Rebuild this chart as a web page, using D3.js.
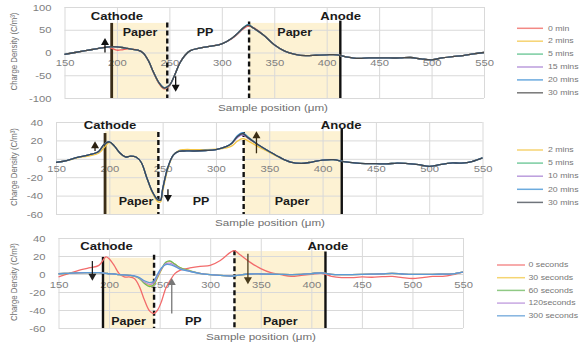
<!DOCTYPE html>
<html>
<head>
<meta charset="utf-8">
<script src="https://cdn.jsdelivr.net/npm/d3@7"></script>
<style>
  body { margin: 0; background: #fff; }
  svg { display: block; }
  text { font-family: "Liberation Sans", Arial, sans-serif; }
</style>
</head>
<body>
<svg id="chart" width="579" height="345"></svg>
<script>
// ---------- shared axis data ----------
const xTicks = [150, 200, 250, 300, 350, 400, 450, 500, 550];
const yTicks1 = [-100, -50, 0, 50, 100];
const yTicks2 = [-60, -40, -20, 0, 20, 40];
const yTicks3 = [-60, -40, -20, 0, 20, 40];

// ---------- panel 1: minutes ----------
const xs1 = [150,160,170,180,190,195,200,205,210,215,220,225,230,235,240,245,250,255,260,265,270,
             280,290,300,310,315,320,325,330,
             340,350,360,370,380,390,400,410,420,430,440,450,460,470,480,490,500,510,520,530,540,550];
const names1 = ["0 min", "2 mins", "5 mins", "15 mins", "20 mins", "30 mins"];
const p1_0min  = [-4,0,4,8,12, 9,5,6,8,7,5,-1,-18,-45,-68,-80,-73,-50,-22,-6,4, 10,14,19,31,40,51,58,55, 38,17,3,-4,-7,-6,-5,-5,-10,-13,-12,-12,-12,-12,-11,-14,-16,-12,-9,-7,-3,0];
const p1_2min  = [-4,0,4,8,12, 13,12.5,11,9,7,5,-1,-18,-44,-67,-79,-72,-50,-23,-6,4, 10,14,19,32,42,53,60,54, 38,17,3,-4,-7,-6,-5,-5,-10,-13,-12,-12,-12,-12,-11,-14,-16,-12,-9,-7,-3,0];
const p1_5min  = [-4,0,4,8,12, 13,12.5,11,9,7,5,-1,-18,-44,-66,-78,-72,-50,-23,-6,4, 10,14,19,32,42,54,61,54, 38,17,3,-4,-7,-6,-5,-5,-10,-13,-12,-12,-12,-12,-11,-14,-16,-12,-9,-7,-3,0];
const p1_15min = [-4,0,4,8,12, 13,12.5,11,9,7,5,-1,-18,-44,-66,-78,-72,-50,-23,-6,4, 10,14,19,32,42,53,60,54, 38,17,3,-4,-7,-6,-5,-5,-10,-13,-12,-12,-12,-12,-11,-14,-16,-12,-9,-7,-3,0];
const p1_20min = [-4,0,4,8,12, 13,12.5,11,9,7,5,-1,-18,-44,-66,-77,-72,-50,-23,-6,4, 10,14,19,32,42,53,61,54, 38,17,3,-4,-7,-6,-5,-5,-10,-13,-12,-12,-12,-12,-11,-14,-16,-12,-9,-7,-3,0];
const p1_30min = [-4,0,4,8,12, 13,12.5,11,9,7,5,-1,-18,-44,-66,-78,-72,-50,-23,-6,4, 10,14,19,32,42,53,60,54, 38,17,3,-4,-7,-6,-5,-5,-10,-13,-12,-12,-12,-12,-11,-14,-16,-12,-9,-7,-3,0];
const colors1 = ["#f0625c", "#f3c443", "#4cbb80", "#a57cd2", "#3b8fd4", "#4a4a4a"];

// ---------- panel 2: minutes ----------
const xs2 = [150,160,170,180,190,195,200,205,210,215,220,225,230,235,240,245,248,250,255,260,265,270,
             280,290,300,310,315,320,325,330,
             340,350,360,370,380,390,400,410,420,430,440,450,460,470,480,490,500,510,520,530,540,550];
const names2 = ["2 mins", "5 mins", "10 mins", "20 mins", "30 mins"];
const p2_2min  = [-4,-2,1,3,6, 12,17.5,13.5,6,2,3,2,-4,-20,-36,-46,-47,-36,-11,4,9,10, 10,10,10.5,12,14,19,22,19.5, 13,7,1,-3.5,-5,-3.5,-1.5,-1,-3,-4.5,-5.3,-5.3,-5.6,-4.6,-5.3,-6.4,-8.2,-6.4,-4.6,-4.6,-3,1];
const p2_5min  = [-4,-2,1.5,4,8, 15.5,18.5,13.5,6.3,2,3,2,-4,-20,-35,-44,-45,-33,-9,4,8,8.5, 8.5,9,10,13.5,17,23.5,27,23, 15,8,1.5,-3.5,-5,-3.5,-1.5,-1,-3,-4.5,-5.3,-5.3,-5.6,-4.6,-5.3,-6.4,-8.2,-6.4,-4.6,-4.6,-3,1];
const p2_10min = [-4,-2,1.5,4,8, 15.5,18.5,13.5,6.3,2,3,2,-4,-20,-35,-44,-45,-33,-9,4,8,8.5, 8.5,9,10,13.5,17,23,26,22.5, 15,8,1.5,-3.5,-5,-3.5,-1.5,-1,-3,-4.5,-5.3,-5.3,-5.6,-4.6,-5.3,-6.4,-8.2,-6.4,-4.6,-4.6,-3,1];
const p2_20min = [-4,-2,1.5,4,8, 15.5,18.5,13.5,6.3,2,3,2,-4,-20,-35,-44,-45,-33,-9,4,8,8.5, 8.5,9,10,13.5,17.5,25,28.5,24, 15,8,1.5,-3.5,-5,-3.5,-1.5,-1,-3,-4.5,-5.3,-5.3,-5.6,-4.6,-5.3,-6.4,-8.2,-6.4,-4.6,-4.6,-3,1];
const p2_30min = [-4,-2,1.5,4,8, 15.5,18.5,13.5,6.3,2,3,2,-4,-20,-35,-44,-45,-33,-9,4,8,8.5, 8.5,9,10,13.5,17,24,27.5,23, 15,8,1.5,-3.5,-5,-3.5,-1.5,-1,-3,-4.5,-5.3,-5.3,-5.6,-4.6,-5.3,-6.4,-8.2,-6.4,-4.6,-4.6,-3,1];
const colors2 = ["#f3c443", "#4cbb80", "#a57cd2", "#3b8fd4", "#3f4650"];

// ---------- panel 3: seconds ----------
const xs3 = [150,160,170,180,190,197,200,205,210,215,220,225,230,235,240,244,248,252,256,260,265,270,
             280,290,300,310,320,324,330,
             340,350,360,370,380,390,400,410,420,430,440,450,460,470,480,490,500,510,520,530,540,550];
const names3 = ["0 seconds", "30 seconds", "60 seconds", "120seconds", "300 seconds"];
const p3_0s   = [-3.3,0.4,4,6.7,9.6, 19,17,9.6,0.4,-3.3,-3.3,-5,-14,-29,-41,-44,-40,-30,-16,-8,0.4,4, 6.7,8.5,9.6,15,24,26,21, 12.6,6,1.5,-0.7,-2.6,-1.5,-0.4,0.7,-2.6,-4,-4,-3.3,-3.6,-3,-2.6,-4,-5,-4,-2.6,-2.6,-0.7,2.2];
const p3_30s  = [0.3,0.8,1.3,1.5,1.5, 0.8,0.3,0,-0.7,-1,-1.5,-2.5,-5,-10,-13,-12.5,-4,5,12.5,14,11,7, 3.5,0.8,-0.7,-1.5,-2.2,-2,-1, 0,0,-0.3,-0.5,-0.6,-0.4,0.5,1.3,-0.5,-0.8,-0.6,-0.5,-0.2,0.2,0.7,0,-0.5,-0.4,-0.4,-0.2,0.2,2];
const p3_60s  = [0.3,0.8,1.5,1.5,1.5, 0.8,0.3,0,-0.7,-1,-1.5,-2.5,-5,-10.5,-14,-12,-3,6,13,14.5,11,7, 3.5,0.8,-0.7,-1.5,-2.2,-2,-1, 0,0,-0.3,-0.5,-0.6,-0.4,0.5,1.3,-0.5,-0.8,-0.6,-0.5,-0.2,0.2,0.7,0,-0.5,-0.4,-0.4,-0.2,0.2,2];
const p3_120s = [0.3,0.8,1.3,1.5,1.5, 0.8,0.3,0,-0.7,-1,-1.5,-2.3,-4.5,-9,-11.5,-10,-2,6,11.5,12,9.5,6, 3,0.6,-0.8,-1.6,-2.3,-2,-1, 0,0,-0.3,-0.5,-0.6,-0.4,0.5,1.3,-0.5,-0.8,-0.6,-0.5,-0.2,0.2,0.7,0,-0.5,-0.4,-0.4,-0.2,0.2,2];
const p3_300s = [0.3,0.8,1.3,1.5,1.5, 0.8,0.3,0,-0.7,-1,-1.5,-2.2,-4,-7.5,-9.5,-8,0,7,10.5,10.5,8.5,5.5, 2.8,0.5,-0.8,-1.6,-2.4,-2.2,-1, 0,0,-0.3,-0.5,-0.6,-0.4,0.5,1.3,-0.5,-0.8,-0.6,-0.5,-0.2,0.2,0.7,0,-0.5,-0.4,-0.4,-0.2,0.2,2];
const colors3 = ["#f26b6b", "#f2c744", "#6cb85c", "#b58ad8", "#5b9bd5"];

// ---------- sample structure (μm, C/m³) ----------
// paper layers: [from, to, top]
const bands1 = [[195, 248, 65], [326, 413, 65]];
const bands2 = [[196, 246, 30], [326, 418, 30]];
const bands3 = [[194, 244.5, 18], [324, 414, 25.5]];
// electrodes and interfaces: [x, top, kind]
const walls1 = [[195, 65, "cathode"], [248, 66, "dash"], [326, 68, "dash"], [413, 70, "anode"]];
const walls2 = [[196, 28, "cathode"], [246, 29, "dash"], [326, 29, "dash"], [418, 33, "anode"]];
const walls3 = [[194, 19, "anode"], [244.5, 21.5, "dash"], [324, 26.5, "dash"], [414, 25, "anode"]];
// text labels: [text, x, y]
const labels1 = [["Cathode", 200, 80], ["Paper", 222, 45], ["PP", 284, 45], ["Paper", 369.5, 43], ["Anode", 413.3, 80]];
const labels2 = [["Cathode", 200.7, 36.7], ["Paper", 225, -46], ["PP", 286, -46], ["Paper", 371.4, -46], ["Anode", 417.4, 36.7]];
const labels3 = [["Cathode", 197.5, 31], ["Paper", 219.3, -52.2], ["PP", 283.2, -52.2], ["Paper", 369.3, -52.2], ["Anode", 416.3, 31]];
// arrows: [x, from, to, colour]
const arrows1 = [[188.6, 0, 32, "#111"], [256, -52, -86, "#111"]];
const arrows2 = [[186.6, 8.5, 19, "#2b2010"], [255, -33, -47, "#111"], [338, 6, 30, "#3a2c12"]];
const arrows3 = [[183.5, 14.4, -7.5, "#222"], [262, -44, -4.5, "#777"], [337.3, 22.5, -11.5, "#4a3c1c"]];

const SX = 1.25; // horizontal stretch used for all lettering

const svg = d3.select("#chart");

function stretchedText(g, x, y, str, size, opts = {}) {
  return g.append("text")
    .attr("transform", `translate(${x},${y}) scale(${SX},1)`)
    .attr("text-anchor", opts.anchor || "middle")
    .attr("dominant-baseline", "central")
    .attr("font-size", size)
    .attr("font-weight", opts.weight || "normal")
    .attr("fill", opts.fill || "#7a7a7a")
    .text(str);
}

function drawPanel(cfg) {
  const x = d3.scaleLinear().domain([150, 550]).range([cfg.left, cfg.right]);
  const y = d3.scaleLinear().domain([cfg.yTicks[0], cfg.yTicks[cfg.yTicks.length - 1]]).range([cfg.bottom, cfg.top]);
  const yMin = cfg.yTicks[0];
  const g = svg.append("g");

  // paper layers
  g.selectAll("rect.band").data(cfg.bands).join("rect")
    .attr("x", d => x(d[0])).attr("width", d => x(d[1]) - x(d[0]))
    .attr("y", d => y(d[2])).attr("height", d => y(yMin) - y(d[2]))
    .attr("fill", "#fdf2d3");

  // horizontal grid + y tick labels
  const yAxis = g.append("g").attr("transform", `translate(${cfg.left},0)`)
    .call(d3.axisLeft(y).tickValues(cfg.yTicks).tickSize(-(cfg.right - cfg.left)).tickFormat(d => String(d)));
  yAxis.select(".domain").remove();
  yAxis.selectAll("line").attr("stroke", "#d9d9d9");
  yAxis.selectAll("text")
    .attr("x", null).attr("dy", null)
    .attr("transform", `translate(-13,0) scale(${SX},1)`)
    .attr("dominant-baseline", "central")
    .attr("font-size", 9).attr("fill", "#7f7f7f").attr("font-family", null);

  // vertical grid
  const xGrid = g.append("g").attr("transform", `translate(0,${cfg.bottom})`)
    .call(d3.axisBottom(x).tickValues(xTicks).tickSize(-(cfg.bottom - cfg.top)).tickFormat(""));
  xGrid.select(".domain").remove();
  xGrid.selectAll("line").attr("stroke", "#d9d9d9");

  // x tick labels sitting under the zero line
  const xAxis = g.append("g").attr("transform", `translate(0,${y(0)})`)
    .call(d3.axisBottom(x).tickValues(xTicks).tickSize(0).tickFormat(d => String(d)));
  xAxis.select(".domain").remove();
  xAxis.selectAll("text")
    .attr("y", null).attr("dy", null)
    .attr("transform", `translate(0,10.5) scale(${SX},1)`)
    .attr("dominant-baseline", "central")
    .attr("font-size", 9).attr("fill", "#7f7f7f").attr("font-family", null);

  // electrodes and interfaces
  cfg.walls.forEach(w => {
    const ln = g.append("line")
      .attr("x1", x(w[0])).attr("x2", x(w[0]))
      .attr("y1", y(w[1])).attr("y2", y(yMin));
    if (w[2] === "dash") {
      ln.attr("stroke", "#111").attr("stroke-width", 2.4).attr("stroke-dasharray", "5,3");
    } else if (w[2] === "cathode") {
      ln.attr("stroke", "#3a2d17").attr("stroke-width", 2.8);
    } else {
      ln.attr("stroke", "#111").attr("stroke-width", 2.4);
    }
  });

  // curves
  const line = d3.line()
    .x((d, i) => x(cfg.xs[i]))
    .y(d => y(d))
    .curve(d3.curveCatmullRom.alpha(0.5));
  cfg.series.forEach((s, k) => {
    g.append("path").attr("d", line(s))
      .attr("fill", "none").attr("stroke", cfg.colors[k]).attr("stroke-width", 1.3);
  });

  // arrows
  cfg.arrows.forEach(a => {
    const ax = x(a[0]), y0 = y(a[1]), y1 = y(a[2]);
    const dir = y1 < y0 ? -1 : 1;
    g.append("line").attr("x1", ax).attr("x2", ax).attr("y1", y0).attr("y2", y1 - dir * 6)
      .attr("stroke", a[3]).attr("stroke-width", 1.3);
    g.append("path")
      .attr("d", `M${ax - 4},${y1 - dir * 7}L${ax + 4},${y1 - dir * 7}L${ax},${y1}Z`)
      .attr("fill", a[3]);
  });

  // structure labels
  cfg.labels.forEach(l => {
    const big = l[0] === "Cathode" || l[0] === "Anode";
    stretchedText(g, x(l[1]), y(l[2]), l[0], big ? 10.5 : 10, { weight: "bold", fill: "#1a1a1a" });
  });

  // axis titles
  stretchedText(g, cfg.xTitle[0], cfg.xTitle[1], "Sample position (μm)", 9.3, { fill: "#6e6e6e" });
  g.append("text")
    .attr("transform", `translate(14,${(cfg.top + cfg.bottom) / 2 - 1}) scale(${SX},1) rotate(-90)`)
    .attr("text-anchor", "middle").attr("dominant-baseline", "central")
    .attr("font-size", 7.8).attr("fill", "#6e6e6e")
    .text("Charge Density (C/m³)");

  // legend
  cfg.names.forEach((n, k) => {
    const ly = cfg.legend.y0 + k * cfg.legend.dy;
    g.append("line").attr("x1", cfg.legend.x1).attr("x2", cfg.legend.x2).attr("y1", ly).attr("y2", ly)
      .attr("stroke", cfg.colors[k]).attr("stroke-width", 1.5).attr("opacity", 0.75);
    stretchedText(g, cfg.legend.tx, ly, n, 7, { anchor: "start", fill: "#777" });
  });
}

drawPanel({
  left: 64.5, right: 484, top: 7, bottom: 98, yTicks: yTicks1,
  xs: xs1, series: [p1_0min, p1_2min, p1_5min, p1_15min, p1_20min, p1_30min],
  names: names1, colors: colors1, bands: bands1, walls: walls1, labels: labels1, arrows: arrows1,
  xTitle: [273, 107],
  legend: { x1: 517, x2: 543, tx: 548, y0: 28.3, dy: 12.9 }
});

drawPanel({
  left: 56, right: 482.5, top: 122, bottom: 214, yTicks: yTicks2,
  xs: xs2, series: [p2_2min, p2_5min, p2_10min, p2_20min, p2_30min],
  names: names2, colors: colors2, bands: bands2, walls: walls2, labels: labels2, arrows: arrows2,
  xTitle: [270, 222],
  legend: { x1: 517, x2: 543, tx: 548, y0: 150, dy: 13.1 }
});

drawPanel({
  left: 58.5, right: 463, top: 238, bottom: 328, yTicks: yTicks3,
  xs: xs3, series: [p3_0s, p3_30s, p3_60s, p3_120s, p3_300s],
  names: names3, colors: colors3, bands: bands3, walls: walls3, labels: labels3, arrows: arrows3,
  xTitle: [261, 336],
  legend: { x1: 497, x2: 525, tx: 528.5, y0: 265, dy: 12.7 }
});
</script>
</body>
</html>
